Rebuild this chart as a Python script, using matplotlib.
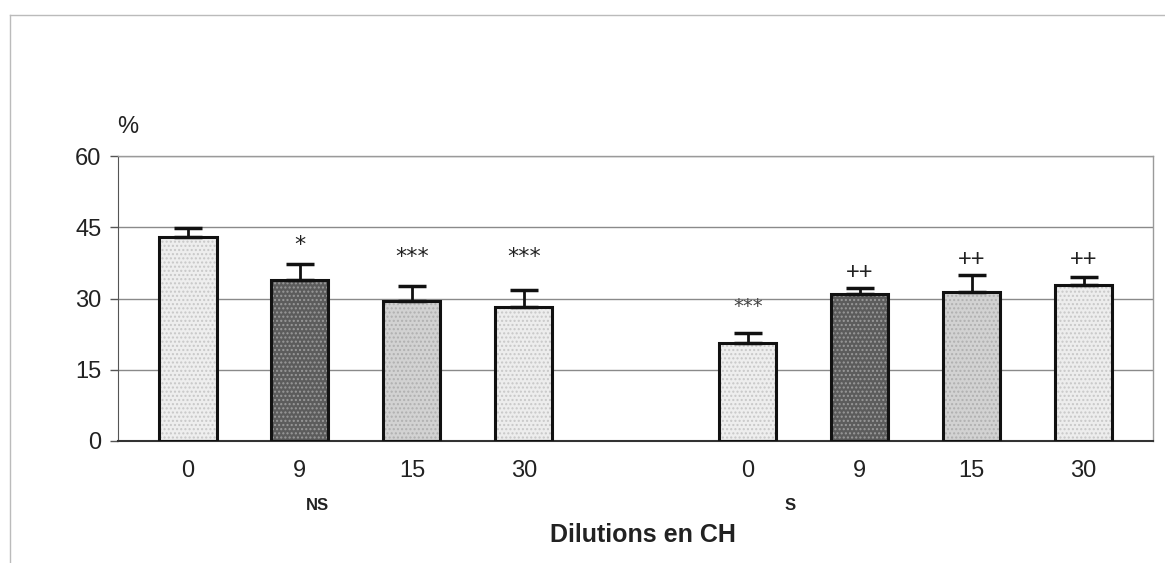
import matplotlib
matplotlib.use("Agg")
import matplotlib.pyplot as plt
from matplotlib.lines import Line2D
import numpy as np

# data
dilutions = ["0", "9", "15", "30", "0", "9", "15", "30"]
groups = ["NS", "S"]
means = [43.0, 34.0, 29.5, 28.3, 20.6, 30.9, 31.4, 32.8]
errs = [1.8, 3.3, 3.1, 3.5, 2.2, 1.4, 3.5, 1.8]
marks = ["", "*", "***", "***", "***", "++", "++", "++"]
mark_y = [0, 41.7, 39.2, 39.2, 28.8, 35.4, 38.1, 38.1]

positions = [0, 1, 2, 3, 5, 6, 7, 8]
faces = ["#eeeeee", "#5c5c5c", "#d2d2d2", "#ededed"] * 2
dots = ["#c8c8c8", "#9a9a9a", "#b0b0b0", "#c8c8c8"] * 2

plt.rcParams["font.family"] = ["Liberation Sans Narrow", "Liberation Sans", "DejaVu Sans"]

fig = plt.figure(figsize=(11.65, 5.63), dpi=100)
ax = fig.add_axes([0.1013, 0.2167, 0.8884, 0.5062])

# textured fill first, then black outline on top
ax.bar(positions, means, width=0.51, color=faces, edgecolor=dots,
       hatch="....", linewidth=0, zorder=2)
ax.bar(positions, means, width=0.51, fill=False, edgecolor="#111111",
       linewidth=2.2, zorder=3)
ax.errorbar(positions, means, yerr=[np.zeros(len(errs)), errs], fmt="none",
            ecolor="#111111", elinewidth=2, capsize=10, capthick=2.5, zorder=3)

for p, y, s in zip(positions, mark_y, marks):
    if not s:
        continue
    if "*" in s:
        ax.text(p, y - 0.4, s, ha="center", va="center", family="DejaVu Sans",
                fontsize=14 if p == 5 else 16, color="#444444" if p == 5 else "#222222")
    else:
        ax.text(p, y, s, ha="center", va="center", fontsize=17, color="#222222")

ax.set_xlim(-0.625, 8.62)
ax.set_ylim(0, 60)
ax.set_yticks([0, 15, 30, 45, 60])
ax.yaxis.grid(True, color="#8a8a8a", linewidth=1)
ax.set_axisbelow(True)

ax.set_xticks(positions)
ax.set_xticklabels(dilutions)
ax.tick_params(axis="x", length=0, pad=14, labelsize=17, labelcolor="#222222")
ax.tick_params(axis="y", length=6, width=1, color="#555555", labelsize=17,
               labelcolor="#222222", pad=6)

for side in ["top", "right"]:
    ax.spines[side].set_color("#9a9a9a")
    ax.spines[side].set_linewidth(1)
ax.spines["left"].set_color("#555555")
ax.spines["bottom"].set_color("#333333")
ax.spines["bottom"].set_linewidth(1.5)

fig.text(0.110, 0.775, "%", fontsize=17, color="#222222", ha="center", va="center")
fig.text(317 / 1165, 1 - 505 / 563, groups[0], fontsize=12, fontweight="bold",
         ha="center", va="center", color="#222222")
fig.text(790 / 1165, 1 - 505 / 563, groups[1], fontsize=12, fontweight="bold",
         ha="center", va="center", color="#222222")
fig.text(643 / 1165, 1 - 535 / 563, "Dilutions en CH", fontsize=18,
         fontweight="bold", ha="center", va="center", color="#222222")

# scanned page frame
fig.add_artist(Line2D([10 / 1165, 1], [1 - 15 / 563] * 2, color="#bbbbbb", lw=1))
fig.add_artist(Line2D([10 / 1165] * 2, [0, 1 - 15 / 563], color="#bbbbbb", lw=1))

fig.savefig("out.png", dpi=100)
